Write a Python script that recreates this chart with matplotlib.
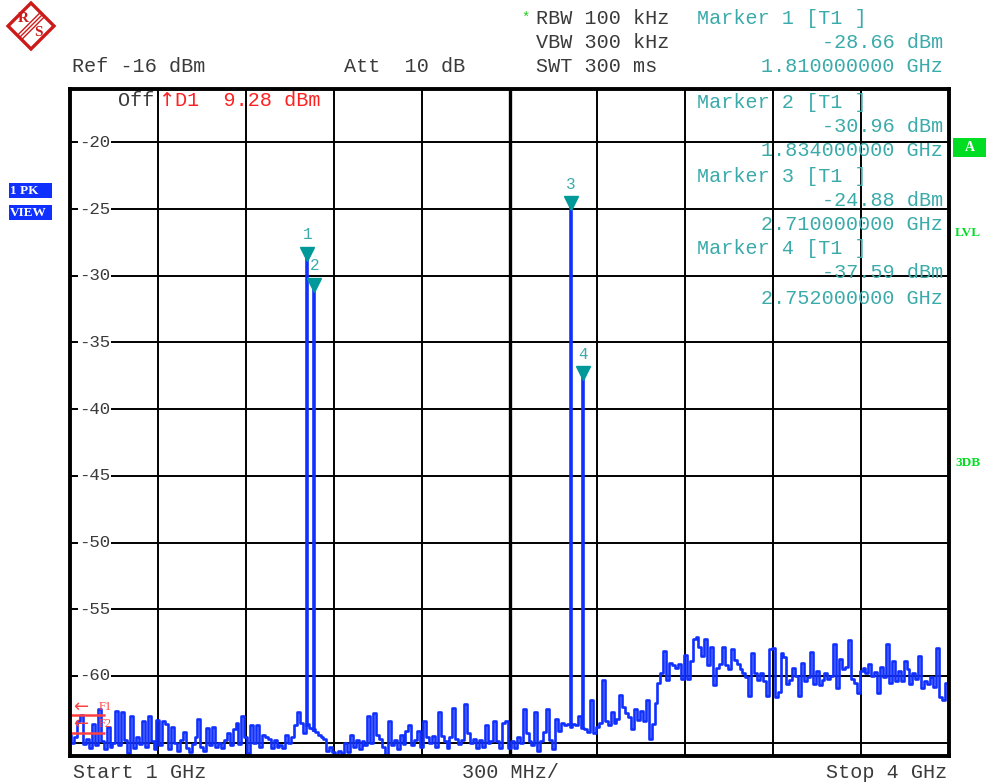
import numpy as np
import matplotlib
matplotlib.use("Agg")
import matplotlib.pyplot as plt
from matplotlib.patches import Rectangle, Polygon
from matplotlib.lines import Line2D
import matplotlib.transforms as mtrans

# ---------------- data ----------------
f_start, f_stop = 1.0, 4.0          # GHz
ref_level = -16                     # dBm
y_bottom = -66
ytick_vals = [-20, -25, -30, -35, -40, -45, -50, -55, -60]
ygrid_vals = [-20, -25, -30, -35, -40, -45, -50, -55, -60, -65]
xgrid_step = 0.3                    # GHz / div

noise = [
    -64.4, -65.0, -64.6, -63.4, -62.9, -65.1, -64.7, -65.4, -63.6, -65.2,
    -62.5, -64.9, -65.5, -63.8, -65.3, -65.0, -62.6, -65.2, -62.7, -64.8,
    -65.8, -63.0, -65.4, -64.6, -65.1, -63.4, -65.3, -63.0, -64.9, -65.5,
    -63.3, -65.2, -63.4, -63.6, -65.5, -63.8, -65.0, -65.6, -64.8, -64.2,
    -65.4, -65.7, -65.1, -64.6, -63.2, -65.3, -65.6, -63.9, -65.2, -63.8,
    -65.3, -65.0, -65.4, -64.8, -64.3, -65.2, -64.0, -63.5, -65.1, -63.0,
    -64.6, -65.8, -63.7, -65.0, -63.7, -65.3, -64.4, -64.6, -64.7, -65.4,
    -64.8, -65.3, -65.2, -65.4, -64.4, -65.0, -64.6, -63.7, -62.7, -63.5,
    -64.3, -63.6, -63.9, -64.0, -64.2, -64.4, -64.6, -64.7, -65.6, -65.3,
    -65.7, -65.9, -65.6, -65.8, -65.0, -65.7, -64.4, -65.3, -64.8, -65.5,
    -64.9, -65.2, -63.0, -65.0, -62.8, -64.4, -64.7, -65.3, -65.9, -63.4,
    -65.2, -64.8, -65.5, -64.4, -65.1, -64.1, -63.7, -65.2, -64.8, -64.1,
    -65.3, -63.4, -64.6, -65.0, -64.5, -65.3, -62.7, -64.5, -64.9, -65.4,
    -64.6, -62.4, -64.7, -65.1, -64.8, -62.1, -64.3, -65.0, -64.7, -65.4,
    -64.8, -65.3, -63.7, -65.0, -64.9, -63.4, -64.9, -65.4, -63.5, -63.4,
    -65.4, -64.9, -65.4, -64.6, -65.0, -62.5, -64.3, -64.9, -65.2, -62.7,
    -65.6, -64.9, -64.2, -62.5, -64.8, -65.5, -63.2, -64.1, -63.5, -63.7,
    -63.6, -63.8, -63.6, -63.7, -63.0, -63.9, -64.0, -64.2, -61.8, -64.3,
    -63.8, -63.5, -60.3, -63.4, -63.7, -62.7, -63.5, -63.2, -61.4, -62.3,
    -62.8, -63.1, -64.0, -62.5, -63.3, -62.6, -63.4, -61.8, -64.7, -63.6,
    -62.0, -60.5, -59.8, -58.1, -60.3, -59.0, -59.2, -59.4, -59.1, -60.2,
    -58.4, -60.2, -58.9, -57.2, -57.1, -57.8, -58.5, -57.2, -59.2, -57.8,
    -60.7, -59.4, -59.1, -57.8, -59.2, -59.5, -58.0, -58.8, -59.1, -59.5,
    -59.8, -60.1, -61.5, -58.3, -59.8, -60.3, -59.8, -60.4, -61.5, -58.0,
    -57.9, -61.6, -61.2, -58.3, -58.6, -60.6, -60.3, -59.4, -60.0, -61.5,
    -59.0, -60.4, -60.1, -58.2, -60.6, -59.6, -60.7, -60.3, -59.8, -60.2,
    -60.0, -57.6, -60.9, -58.7, -59.5, -59.3, -57.3, -60.2, -60.5, -61.3,
    -59.6, -59.4, -59.8, -59.1, -60.0, -59.7, -61.3, -59.3, -60.1, -57.6,
    -60.5, -58.9, -60.4, -59.6, -60.4, -58.9, -59.5, -60.6, -59.8, -60.2,
    -58.5, -60.9, -60.4, -60.6, -60.1, -60.8, -57.9, -61.6, -61.8, -60.5,
    -59.6,
]

marker_ids = ["1", "2", "3", "4"]
marker_freq = [1.810, 1.834, 2.710, 2.752]   # GHz
marker_level = [-28.66, -30.96, -24.88, -37.59]  # dBm
peak_base = [-63.8, -64.2, -63.7, -63.9]

# ---------------- figure ----------------
W, H = 990, 782
fig = plt.figure(figsize=(W / 100, H / 100), dpi=100)
fig.patch.set_facecolor("white")

def fx(px):
    return px / W

def fy(py):
    return 1 - py / H

L, R, T, B = 70, 949, 89, 756
ax = fig.add_axes([fx(L), fy(B), (R - L) / W, (B - T) / H])
ax.set_xlim(f_start, f_stop)
ax.set_ylim(y_bottom, ref_level)
ax.set_xticks([])
ax.set_yticks([])
for s in ax.spines.values():
    s.set_linewidth(2.8)
    s.set_color("black")
    s.set_zorder(7)

# grid
gx = np.arange(f_start + xgrid_step, f_stop - 1e-6, xgrid_step)
for g in gx:
    lw = 2.4 if abs(g - 2.5) < 1e-6 else 1.4
    ax.axvline(g, color="black", lw=lw, zorder=1)
for v in ygrid_vals:
    ax.axhline(v, color="black", lw=1.4, zorder=1)

blue = "#1030ff"
teal_t = "#3aaaaa"
teal_m = "#00999a"
gray = "#3a3a3a"
mono = "Liberation Mono"

# trace
freqs = np.linspace(f_start, f_stop, len(noise))
ax.plot(freqs, noise, color=blue, lw=1.9, drawstyle="steps-mid", zorder=3)
ax.vlines(marker_freq, peak_base, marker_level, color=blue, lw=2.6, zorder=3)

# markers
tri_tr = mtrans.offset_copy(ax.transData, fig=fig, x=0, y=4, units="dots")
for mid, mf, ml in zip(marker_ids, marker_freq, marker_level):
    ax.plot([mf], [ml], marker="v", ms=10, color=teal_m, transform=tri_tr,
            zorder=5, linestyle="none")
    ax.annotate(mid, (mf, ml), xytext=(0, 23), textcoords="offset pixels",
                ha="center", va="center", color=teal_t, fontsize=11.5,
                family=mono, zorder=6)

# y tick labels inside
ylab_tr = mtrans.blended_transform_factory(ax.transAxes, ax.transData)
for v in ytick_vals:
    ax.text(9 / (R - L), v, f"-{abs(v)}", transform=ylab_tr, ha="left",
            va="center", fontsize=12.5, family=mono, color=gray, zorder=4,
            bbox=dict(facecolor="white", edgecolor="none", pad=0.5))

# F1 / F2 display lines
red_l = "#ff4040"
for yv, ytxt, lab in [(-62.9, -62.3, "F1"), (-64.3, -63.6, "F2")]:
    ax.hlines(yv, f_start, 1.118, color=red_l, lw=1.8, zorder=4)
    ax.text(1.012, ytxt, "\u2190", color=red_l, fontsize=13, ha="left",
            va="center", family="DejaVu Sans", zorder=6)
    ax.text(1.098, ytxt, lab, color=red_l, fontsize=9, ha="left",
            va="center", family="Liberation Serif", zorder=6)

# ---------------- header texts ----------------
fs = 14.5
def ftxt(px, py, s, color=gray, ha="left", **kw):
    fig.text(fx(px), fy(py), s, color=color, ha=ha, va="center",
             fontsize=kw.pop("fontsize", fs), family=kw.pop("family", mono), **kw)

ftxt(72, 67, "Ref -16 dBm")
ftxt(344, 67, "Att  10 dB")
ftxt(521, 18, "*", color="#22cc22", fontsize=10)
ftxt(536, 18, "RBW 100 kHz")
ftxt(536, 42, "VBW 300 kHz")
ftxt(536, 67, "SWT 300 ms")
ftxt(697, 18, "Marker 1 [T1 ]", color=teal_t)
ftxt(943, 42, "-28.66 dBm", color=teal_t, ha="right")
ftxt(943, 67, "1.810000000 GHz", color=teal_t, ha="right")

ftxt(697, 102, "Marker 2 [T1 ]", color=teal_t)
ftxt(943, 126, "-30.96 dBm", color=teal_t, ha="right")
ftxt(943, 151, "1.834000000 GHz", color=teal_t, ha="right")
ftxt(697, 176, "Marker 3 [T1 ]", color=teal_t)
ftxt(943, 200, "-24.88 dBm", color=teal_t, ha="right")
ftxt(943, 224, "2.710000000 GHz", color=teal_t, ha="right")
ftxt(697, 249, "Marker 4 [T1 ]", color=teal_t)
ftxt(943, 273, "-37.59 dBm", color=teal_t, ha="right")
ftxt(943, 298, "2.752000000 GHz", color=teal_t, ha="right")

ftxt(118, 100, "Off")
ftxt(159, 101, "\u2191", color="#ff2020", family="DejaVu Sans", fontsize=14)
ftxt(175, 100, "D1  9.28 dBm", color="#ff2020")

ftxt(73, 772, "Start 1 GHz")
ftxt(462, 772, "300 MHz/")
ftxt(947, 772, "Stop 4 GHz", ha="right")

# left side boxes
lblue = "#1030ff"
for (y0, lab) in [(183, "1 PK"), (205, "VIEW")]:
    fig.patches.append(Rectangle((fx(9), fy(y0 + 15)), 43 / W, 15 / H,
                                 transform=fig.transFigure, facecolor=lblue,
                                 edgecolor="none"))
    fig.text(fx(10), fy(y0 + 7.5), lab, color="white", fontsize=9.5,
             fontweight="bold", family="Liberation Serif", ha="left", va="center")

# right side indicators
green = "#00dd22"
fig.patches.append(Rectangle((fx(953), fy(157)), 33 / W, 19 / H,
                             transform=fig.transFigure, facecolor=green,
                             edgecolor="none"))
fig.text(fx(969.5), fy(147.5), "A", color="white", fontsize=10, fontweight="bold",
         family="Liberation Serif", ha="center", va="center")
fig.text(fx(955), fy(233), "LVL", color=green, fontsize=9.5, fontweight="bold",
         family="Liberation Serif", ha="left", va="center")
fig.text(fx(955), fy(463), "3DB", color=green, fontsize=9.5, fontweight="bold",
         family="Liberation Serif", ha="left", va="center")

# R&S logo
lr = "#cc1a1a"
cx, cy, d = 31, 26, 23
diamond = Polygon([(fx(cx), fy(cy - d)), (fx(cx + d), fy(cy)),
                   (fx(cx), fy(cy + d)), (fx(cx - d), fy(cy))],
                  closed=True, transform=fig.transFigure, facecolor="none",
                  edgecolor=lr, lw=2.4)
fig.patches.append(diamond)
for off in (-3, 0, 3):
    x1, y1 = cx - d / 2 + off * 0.7, cy + d / 2 + off * 0.7
    x2, y2 = cx + d / 2 + off * 0.7, cy - d / 2 + off * 0.7
    fig.lines.append(Line2D([fx(x1), fx(x2)], [fy(y1), fy(y2)],
                            transform=fig.transFigure, color=lr, lw=1.0))
fig.text(fx(23), fy(18), "R", color=lr, fontsize=11, fontweight="bold",
         family="Liberation Serif", ha="center", va="center")
fig.text(fx(38), fy(33), "S", color=lr, fontsize=11, fontweight="bold",
         family="Liberation Serif", ha="center", va="center")

fig.savefig("out.png", dpi=100, facecolor="white")
